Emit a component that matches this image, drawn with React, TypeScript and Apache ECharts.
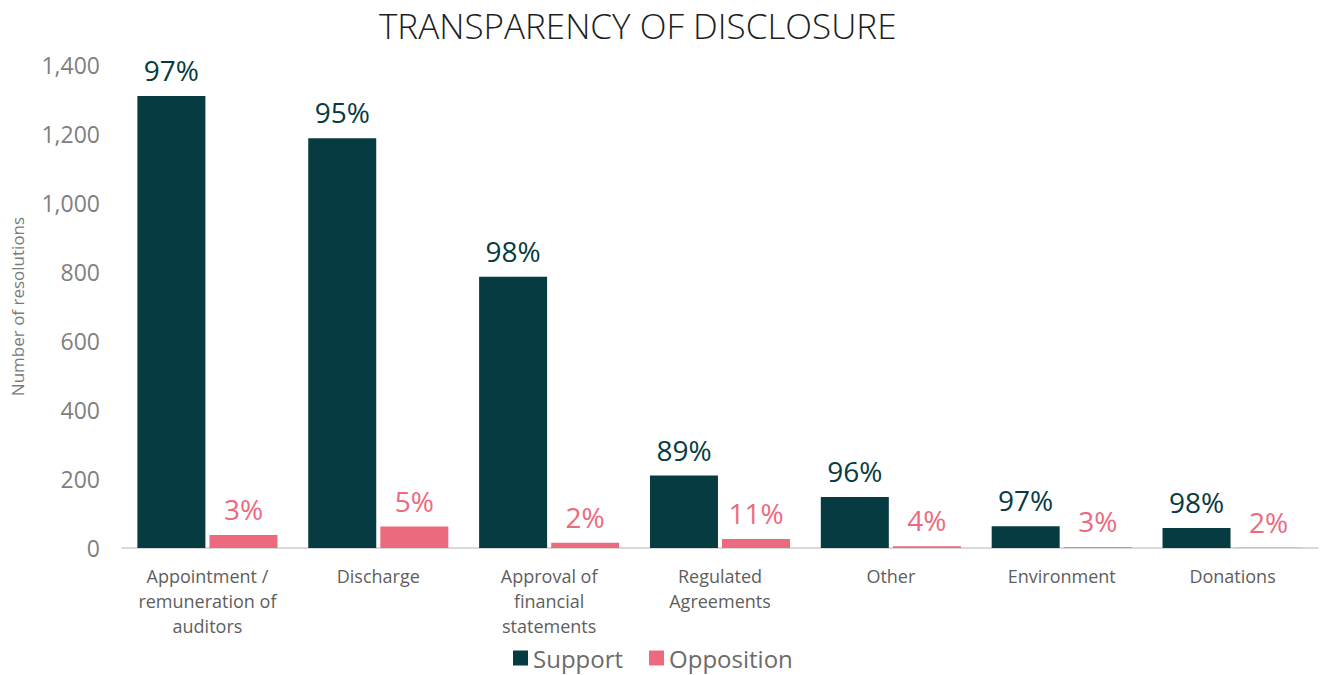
import React, { useEffect, useRef } from "react";
import * as echarts from "echarts";

const categories = [
  "Appointment /\nremuneration of\nauditors",
  "Discharge",
  "Approval of\nfinancial\nstatements",
  "Regulated\nAgreements",
  "Other",
  "Environment",
  "Donations",
];
const supportValues = [1310, 1188, 786, 210, 148, 63, 58];
const oppositionValues = [38, 62, 15, 26, 5, 2, 1];
const supportPct = ["97%", "95%", "98%", "89%", "96%", "97%", "98%"];
const oppositionPct = ["3%", "5%", "2%", "11%", "4%", "3%", "2%"];
const yTicks = { min: 0, max: 1400, interval: 200 };

const DARK = "#063c41";
const PINK = "#ec6a7e";
const FONT = "'Open Sans', 'Noto Sans', sans-serif";

export default function App() {
  const ref = useRef<HTMLDivElement>(null);
  useEffect(() => {
    document.body.style.margin = "0";
    const chart = echarts.init(ref.current!, undefined, { renderer: "svg" });
    chart.setOption({
      animation: false,
      textStyle: { fontFamily: FONT },
      title: {
        text: "TRANSPARENCY OF DISCLOSURE",
        left: 374,
        top: 3,
        textStyle: { fontFamily: FONT, fontSize: 35, fontWeight: 300, color: "#1e1e1e" },
      },
      legend: {
        bottom: 0,
        left: 508,
        itemWidth: 15,
        itemHeight: 15,
        itemGap: 26,
        icon: "rect",
        textStyle: { fontFamily: FONT, fontSize: 24, color: "#6b6b6b", padding: [0, 0, 0, 0] },
        data: ["Support", "Opposition"],
      },
      grid: { left: 122, right: 4, top: 65, bottom: 127, containLabel: false, outerBoundsMode: "none" },
      xAxis: {
        type: "category",
        data: categories,
        axisLine: { lineStyle: { color: "#d9d9d9", width: 2 } },
        axisTick: { show: false },
        axisLabel: {
          color: "#5e5e5e",
          fontSize: 18,
          lineHeight: 25,
          margin: 15,
          interval: 0,
          fontFamily: FONT,
        },
      },
      yAxis: {
        type: "value",
        min: yTicks.min,
        max: yTicks.max,
        interval: yTicks.interval,
        name: "Number of resolutions",
        nameLocation: "middle",
        nameRotate: 90,
        nameGap: 96,
        nameTextStyle: { color: "#7a7a7a", fontSize: 17, fontFamily: FONT },
        splitLine: { show: false },
        axisLine: { show: false },
        axisTick: { show: false },
        axisLabel: {
          color: "#808080",
          fontSize: 23,
          margin: 22,
          fontFamily: FONT,
          formatter: (v: number) => v.toLocaleString("en-US"),
        },
      },
      series: [
        {
          name: "Support",
          type: "bar",
          data: supportValues,
          barWidth: 68,
          barGap: "6%",
          itemStyle: { color: DARK },
          label: {
            show: true,
            position: "top",
            distance: 12,
            color: DARK,
            fontSize: 28,
            fontFamily: FONT,
            formatter: (p: any) => supportPct[p.dataIndex],
          },
        },
        {
          name: "Opposition",
          type: "bar",
          data: oppositionValues,
          barWidth: 68,
          itemStyle: { color: PINK },
          label: {
            show: true,
            position: "top",
            distance: 12,
            color: PINK,
            fontSize: 28,
            fontFamily: FONT,
            formatter: (p: any) => oppositionPct[p.dataIndex],
          },
        },
      ],
    });
    return () => chart.dispose();
  }, []);
  return <div ref={ref} style={{ width: 1322, height: 675 }} />;
}
